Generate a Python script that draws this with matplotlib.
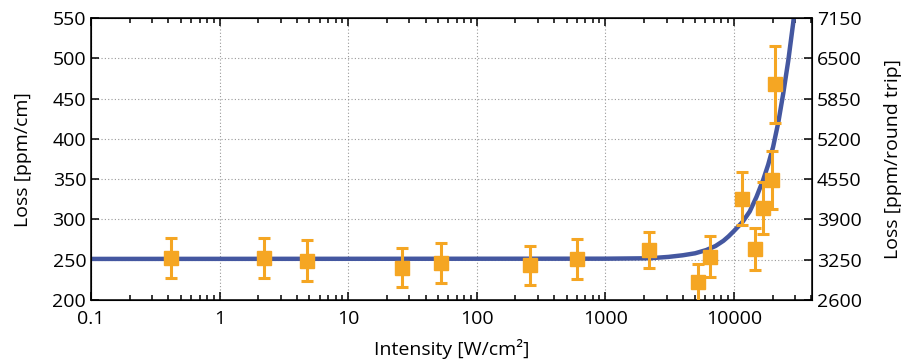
import matplotlib
matplotlib.use("Agg")
import matplotlib.pyplot as plt
from matplotlib.ticker import FixedLocator, FixedFormatter, LogLocator, NullFormatter

plt.rcParams['font.family'] = ['Open Sans', 'DejaVu Sans']

# measured points (intensity in W/cm^2, loss in ppm/cm, error in ppm/cm)
intensidade = [0.42, 2.2, 4.8, 26, 53, 260, 600, 2180, 5270, 6470,
               11600, 14500, 16900, 19900, 20800]
perda = [252, 252, 249, 240, 246, 243, 251, 262, 222, 254,
         326, 263, 314, 349, 468]
erro = [25, 25, 25, 24, 25, 24, 25, 22, 23, 26,
        33, 26, 32, 36, 48]

# fit curve
curva_i = [0.1, 1000, 2200, 3100, 4000, 5000, 6100, 7200, 8300, 9100, 10000,
           11700, 13300, 15000, 16900, 18500, 20200, 22200, 24200, 26500,
           28900, 30500]
curva_l = [251, 251.3, 251.8, 253.5, 255.5, 258, 262, 267, 273.5, 279, 285.5,
           297, 310, 328, 349, 368, 390, 421, 456, 497,
           543, 575]

xticks = [0.1, 1, 10, 100, 1000, 10000]
xlabels = ['0.1', '1', '10', '100', '1000', '10000']
yticks = [200, 250, 300, 350, 400, 450, 500, 550]
fator = 13  # ppm/cm -> ppm/round trip

azul = '#4457a0'
laranja = '#f5a623'

fig = plt.figure(figsize=(9.04, 3.63), dpi=100)
ax = fig.add_axes([0.1007, 0.1736, 0.7973, 0.7764])

ax.plot(curva_i, curva_l, color=azul, lw=3.2, zorder=2, solid_capstyle='butt')
ax.errorbar(intensidade, perda, yerr=erro, fmt='s', color=laranja,
            ms=9.5, elinewidth=2.2, capsize=4.3, capthick=2.2, zorder=3)

ax.set_xscale('log')
ax.set_xlim(0.1, 40400)
ax.set_ylim(200, 550)

ax.xaxis.set_major_locator(FixedLocator(xticks))
ax.xaxis.set_major_formatter(FixedFormatter(xlabels))
ax.xaxis.set_minor_locator(LogLocator(base=10, subs=range(2, 10), numticks=20))
ax.xaxis.set_minor_formatter(NullFormatter())
ax.set_yticks(yticks)

ax.grid(True, which='major', color='#999999', ls=(0, (1, 2)), lw=0.8)
ax.tick_params(which='both', direction='in', top=True, labelsize=14, width=1.1)
ax.tick_params(which='major', length=6)
ax.tick_params(which='minor', length=3.5)
ax.tick_params(axis='x', pad=7)
for s in ax.spines.values():
    s.set_linewidth(1.1)

ax.set_xlabel('Intensity [W/cm²]', fontsize=14, labelpad=8)
ax.set_ylabel('Loss [ppm/cm]', fontsize=14, labelpad=15)

ax2 = ax.twinx()
ax2.set_ylim(200 * fator, 550 * fator)
ax2.set_yticks([t * fator for t in yticks])
ax2.tick_params(direction='in', labelsize=14, length=6, width=1.1)
ax2.set_ylabel('Loss [ppm/round trip]', fontsize=14, labelpad=16)

fig.savefig('out.png', dpi=100)
